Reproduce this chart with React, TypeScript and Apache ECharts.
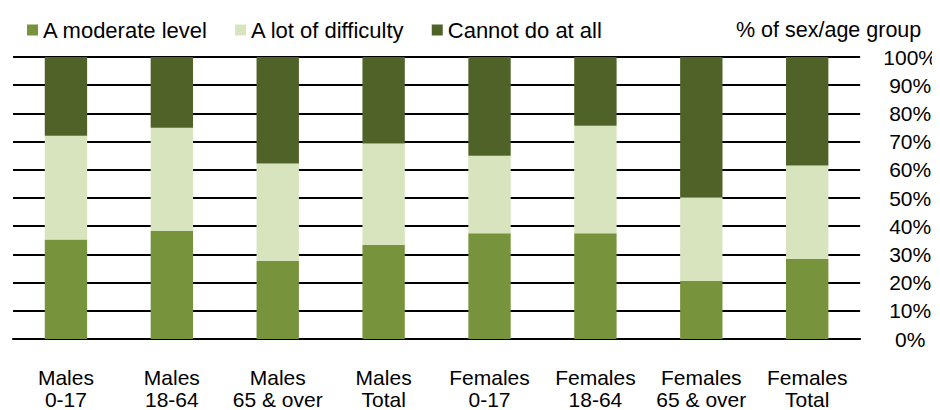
import React, { useEffect, useRef } from "react";
import * as echarts from "echarts";

const categories = [
  "Males\n0-17",
  "Males\n18-64",
  "Males\n65 & over",
  "Males\nTotal",
  "Females\n0-17",
  "Females\n18-64",
  "Females\n65 & over",
  "Females\nTotal",
];
const moderate = [35.3, 38.3, 27.7, 33.3, 37.5, 37.5, 20.6, 28.4];
const lotOfDifficulty = [36.8, 36.6, 34.5, 36.0, 27.5, 38.1, 29.7, 33.1];
const cannotDo = [27.9, 25.1, 37.8, 30.7, 35.0, 24.4, 49.7, 38.5];
const seriesNames = ["A moderate level", "A lot of difficulty", "Cannot do at all"];
const colors = ["#77933C", "#D7E4BD", "#4F6228"];

const FONT = "'Liberation Sans', Arial, sans-serif";

export default function App() {
  const ref = useRef<HTMLDivElement>(null);
  useEffect(() => {
    if (!ref.current) return;
    const chart = echarts.init(ref.current, undefined, { renderer: "svg" });
    const data = [moderate, lotOfDifficulty, cannotDo];
    chart.setOption({
      animation: false,
      textStyle: { fontFamily: FONT, color: "#000" },
      legend: {
        left: 22,
        top: 14,
        itemWidth: 11,
        itemHeight: 11,
        itemGap: 27,
        icon: "rect",
        textStyle: { fontFamily: FONT, fontSize: 22, color: "#000", lineHeight: 22 },
        data: seriesNames,
      },
      graphic: [
        {
          type: "text",
          left: 736,
          top: 19,
          style: {
            text: "% of sex/age group",
            font: `21.5px ${FONT}`,
            fill: "#000",
          },
        },
      ],
      grid: { left: 13, right: 78, top: 57, bottom: 70 },
      xAxis: {
        type: "category",
        data: categories,
        axisLine: { lineStyle: { color: "#000", width: 2 } },
        axisTick: { show: false },
        axisLabel: {
          fontFamily: FONT,
          fontSize: 21,
          lineHeight: 22,
          color: "#000",
          margin: 27,
          interval: 0,
        },
      },
      yAxis: {
        type: "value",
        position: "right",
        min: 0,
        max: 100,
        interval: 10,
        axisLine: { show: false },
        axisTick: { show: false },
        splitLine: { lineStyle: { color: "#000", width: 2 } },
        axisLabel: {
          formatter: "{value}%",
          fontFamily: FONT,
          fontSize: 21,
          color: "#000",
          align: "center",
          margin: 50,
        },
      },
      series: seriesNames.map((name, i) => ({
        name,
        type: "bar",
        stack: "total",
        barWidth: "40%",
        itemStyle: { color: colors[i] },
        data: data[i],
      })),
    });
    return () => chart.dispose();
  }, []);
  return <div ref={ref} style={{ width: 940, height: 410, marginLeft: -8, marginTop: -8 }} />;
}
